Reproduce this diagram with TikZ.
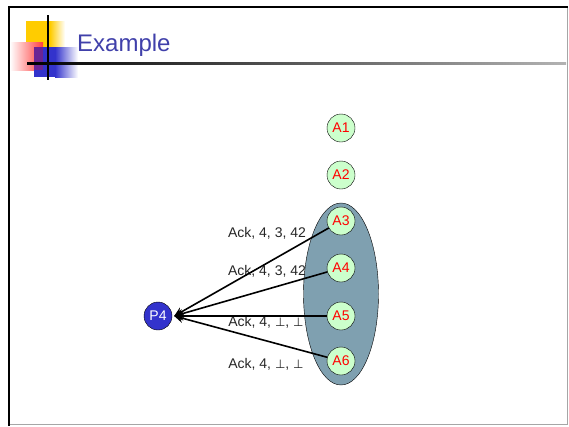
\documentclass[tikz,border=0pt]{standalone}
\usepackage{fontspec}
\setmainfont{Liberation Sans}
\newfontfamily\symfont{DejaVu Sans}
\usetikzlibrary{arrows.meta}
\definecolor{titleblue}{RGB}{64,64,170}
\definecolor{slate}{RGB}{127,160,176}
\definecolor{agreen}{RGB}{204,255,204}
\definecolor{pblue}{RGB}{51,51,204}
\definecolor{logoyellow}{RGB}{255,204,0}
\definecolor{logored}{RGB}{255,60,60}
\newcommand{\bott}{{\symfont\fontsize{12}{14}\selectfont ⊥}}
\tikzset{
  acc/.style={circle,draw,fill=agreen,minimum size=28pt,inner sep=0pt,text=red,font=\fontsize{14}{16}\selectfont},
  msg/.style={font=\fontsize{14}{16}\selectfont,text=black!85,inner sep=0pt},
  ack/.style={-{Stealth[length=9pt,width=9pt]},line width=1.6pt}
}
\begin{document}
\begin{tikzpicture}[x=1pt,y=-1pt]
 \useasboundingbox (0,0) rectangle (569,426);
 % slide frame
 \draw[black!35,line width=1pt] (567.5,6) -- (567.5,424.5) -- (9,424.5);
 \draw[line width=2pt] (9,426) -- (9,7) -- (567.5,7);
 % logo
 \shade[left color=logoyellow,right color=white] (50,21) rectangle (65,47);
 \fill[logoyellow] (26,21) rectangle (50,47);
 \shade[left color=white,right color=logored] (10,42) rectangle (43,70);
 \shade[left color=pblue,right color=white] (55,47) rectangle (78,77);
 \fill[pblue] (34,47) rectangle (55,77);
 \fill[red!50!pblue,opacity=0.55] (34,47) rectangle (43,70);
 \draw[line width=1.5pt] (48,15) -- (48,80);
 \shade[left color=black,right color=black!30] (27,62.2) rectangle (566,64);
 \node[anchor=west,text=titleblue,font=\fontsize{24}{28}\selectfont,inner sep=0pt] (title) at (77,45) {Example};
 % acceptors
 \draw[fill=slate] (341,294) ellipse [x radius=37.5pt,y radius=91pt];
 \node[msg] (m3) at (267,233) {Ack, 4, 3, 42};
 \node[msg] (m4) at (267,271) {Ack, 4, 3, 42};
 \node[msg] (m5) at (266,322) {Ack, 4, \bott, \bott};
 \node[msg] (m6) at (266,364) {Ack, 4, \bott, \bott};
 \node[circle,draw,fill=pblue,minimum size=28pt,inner sep=0pt,text=white,font=\fontsize{14}{16}\selectfont] (P4) at (158,316) {P4};
 \node[acc] (A1) at (341,128) {A1};
 \node[acc] (A2) at (341,175) {A2};
 \node[acc] (A3) at (341,221) {A3};
 \node[acc] (A4) at (341,268) {A4};
 \node[acc] (A5) at (341,316) {A5};
 \node[acc] (A6) at (341,361) {A6};
 \foreach \a in {A3,A4,A5,A6}
   \draw[ack] (\a) -- ([xshift=2pt]P4.east);
\end{tikzpicture}
\end{document}
